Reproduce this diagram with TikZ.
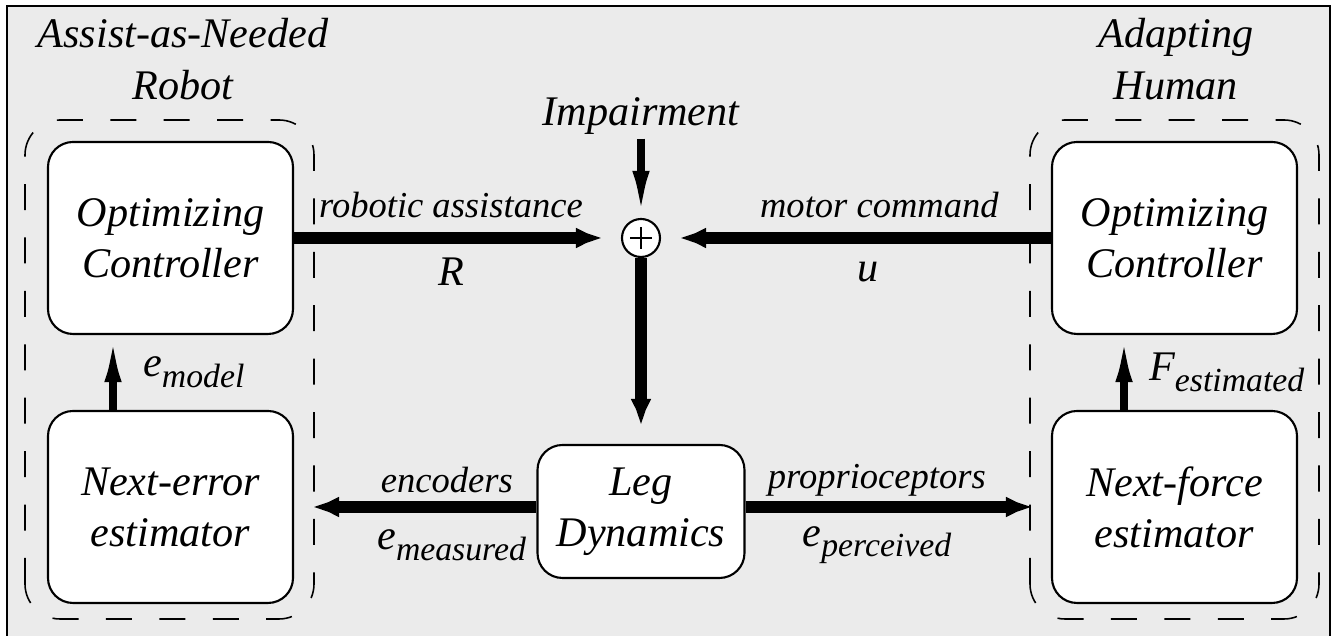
\documentclass[tikz,border=0pt]{standalone}
\usepackage{fontspec}
\setmainfont{Liberation Serif}
\usetikzlibrary{positioning, arrows.meta}
\definecolor{panelgray}{RGB}{235,235,235}

\newcommand{\sig}[2]{#1\raisebox{-0.55ex}{\fontsize{9.6}{10}\selectfont #2}}

\begin{document}
\begin{tikzpicture}[
    block/.style={draw, line width=0.6pt, fill=white, rounded corners=2.5mm,
        minimum width=2.45cm, minimum height=1.92cm, align=center,
        font=\fontsize{12}{14.5}\selectfont\itshape},
    group/.style={draw, line width=0.45pt, dash pattern=on 7.4pt off 7.8pt, rounded corners=3.5mm},
    sumnode/.style={circle, draw, line width=0.6pt, fill=white, minimum size=3.8mm, inner sep=0pt,
        path picture={\draw[line width=0.45pt]
            ([xshift=-1.1mm]path picture bounding box.center) -- ([xshift=1.1mm]path picture bounding box.center)
            ([yshift=-1.1mm]path picture bounding box.center) -- ([yshift=1.1mm]path picture bounding box.center);}},
    heavy/.style={line width=3.4pt, -{Latex[length=4.5mm, width=1.8mm]}},
    light/.style={line width=2pt, -{Latex[length=4.7mm, width=1.7mm]}},
    lbl/.style={font=\fontsize{10.4}{12}\selectfont\itshape},
    siglbl/.style={font=\fontsize{12}{14}\selectfont\itshape},
    title/.style={align=center, font=\fontsize{12}{15}\selectfont\itshape}
]
    \useasboundingbox (0,0) rectangle (13.36,6.36);
    % panel
    \draw[fill=panelgray, line width=0.7pt] (0.07,-0.1) rectangle (13.30,6.30);

    % robot side and human side
    \draw[group] (0.25,0.17) rectangle (3.14,5.16);
    \draw[group] (10.30,0.17) rectangle (13.19,5.16);
    \node[title] (robot) at (1.83,5.77) {Assist-as-Needed\\Robot};
    \node[title] (human) at (11.76,5.77) {Adapting\\Human};

    % blocks
    \node[block] (optL) at (1.705,3.98) {Optimizing\\Controller};
    \node[block] (estL) at (1.705,1.29) {Next-error\\estimator};
    \node[block] (optR) at (11.745,3.98) {Optimizing\\Controller};
    \node[block] (estR) at (11.745,1.29) {Next-force\\estimator};
    \node[block, minimum width=2.07cm, minimum height=1.33cm] (leg) at (6.41,1.245) {Leg\\Dynamics};

    % summing junction
    \node[sumnode] (sum) at (6.41,3.98) {};
    \node[siglbl, inner sep=1pt] (imp) at (6.41,5.20) {Impairment};

    % signals
    \draw[light] (imp) -- (sum);
    \draw[heavy] (optL) -- (sum)
        node[lbl, pos=0.48, yshift=3.3mm] {robotic assistance}
        node[siglbl, pos=0.48, yshift=-3.4mm] {R};
    \draw[heavy] (optR) -- (sum)
        node[lbl, pos=0.44, yshift=3.3mm] {motor command}
        node[siglbl, pos=0.47, yshift=-3.4mm] {u};
    \draw[heavy] (sum) -- (leg);
    \draw[heavy] (leg.west |- estL.east) -- (estL.east)
        node[lbl, pos=0.37, yshift=2.7mm] {encoders}
        node[siglbl, pos=0.35, yshift=-3.8mm] {\sig{e}{measured}};
    \draw[heavy] (leg.east |- estR.west) -- (estR.west)
        node[lbl, pos=0.43, yshift=2.7mm] {proprioceptors}
        node[siglbl, pos=0.43, yshift=-3.8mm] {\sig{e}{perceived}};

    % estimator outputs
    \draw[light] ([xshift=-5.75mm]estL.north) -- ([xshift=-5.75mm]optL.south)
        node[siglbl, midway, right, xshift=1.5mm] {\sig{e}{model}};
    \draw[light] ([xshift=-5.05mm]estR.north) -- ([xshift=-5.05mm]optR.south)
        node[siglbl, midway, right, xshift=1mm] {\sig{F}{estimated}};
\end{tikzpicture}
\end{document}
